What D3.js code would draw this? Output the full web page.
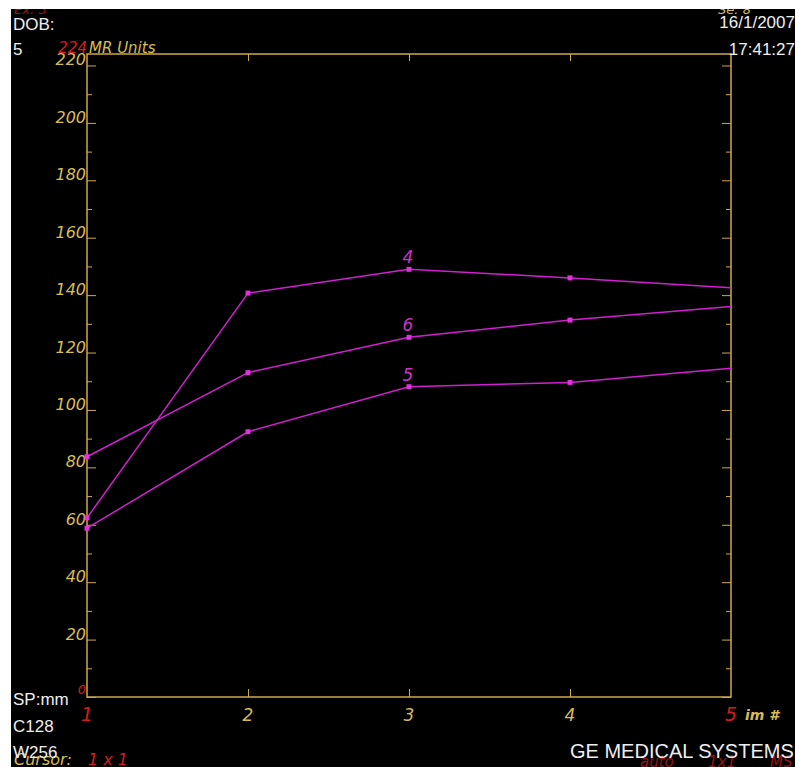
<!DOCTYPE html>
<html>
<head>
<meta charset="utf-8">
<script src="https://cdn.jsdelivr.net/npm/d3@7"></script>
<style>
  body { margin: 0; background: #fff; }
  .wt { font-family: "Liberation Sans", Arial, sans-serif; font-size: 17px; fill: #eeeeee; }
  .ax { font-family: "Liberation Sans Narrow", "DejaVu Sans", sans-serif; font-style: italic; font-size: 16px; fill: #d8bd55; }
  .rd { fill: #d81c1c; }
  .mg { font-family: "Liberation Sans Narrow", "DejaVu Sans", sans-serif; font-style: italic; font-size: 17px; fill: #cc33cc; }
</style>
</head>
<body>
<script>
// image numbers along the x axis
var images = [1, 2, 3, 4, 5];

// signal intensity (MR units) per region of interest
var roi4 = [62.4, 140.7, 149.0, 146.0, 142.6];
var roi6 = [83.7, 113.0, 125.3, 131.3, 136.0];
var roi5 = [58.8, 92.4, 108.1, 109.6, 114.5];
var roiNames = ["4", "6", "5"];

var yLabels = [0, 20, 40, 60, 80, 100, 120, 140, 160, 180, 200, 220];
var yMax = 224;

window.onload = function(){

    var w = 795, h = 767;
    var mLeft = 87, mRight = 731, mTop = 54, mBottom = 697;

    var svg = d3.select("body").append("svg")
        .attr("width", w)
        .attr("height", h);

    // black screen area
    svg.append("rect")
        .attr("x", 11).attr("y", 9)
        .attr("width", w - 11).attr("height", h - 9)
        .style("fill", "#000");

    var x = d3.scaleLinear().domain([1, 5]).range([mLeft, mRight]);
    var y = d3.scaleLinear().domain([0, yMax]).range([mBottom, mTop]);

    var gold = "#cfa94a";

    // minor ticks every 10 units, major every 20
    var tickVals = d3.range(0, 221, 10);

    // left axis, ticks point inward
    svg.append("g").attr("transform", "translate(" + mLeft + ",0)")
        .call(d3.axisRight(y).tickValues(tickVals).tickSize(0).tickFormat(""))
        .call(function(g){ g.select(".domain").remove(); })
        .selectAll(".tick line")
        .attr("x2", function(d){ return d % 20 === 0 ? 9 : 5; })
        .style("stroke", gold);

    // right axis, ticks point inward
    svg.append("g").attr("transform", "translate(" + mRight + ",0)")
        .call(d3.axisLeft(y).tickValues(tickVals).tickSize(0).tickFormat(""))
        .call(function(g){ g.select(".domain").remove(); })
        .selectAll(".tick line")
        .attr("x2", function(d){ return d % 20 === 0 ? -9 : -5; })
        .style("stroke", gold);

    // top and bottom ticks at the inner images
    var innerX = images.slice(1, 4);
    svg.append("g").attr("transform", "translate(0," + mBottom + ")")
        .call(d3.axisTop(x).tickValues(innerX).tickSize(8).tickFormat(""))
        .call(function(g){ g.select(".domain").remove(); })
        .selectAll(".tick line").style("stroke", gold);
    svg.append("g").attr("transform", "translate(0," + mTop + ")")
        .call(d3.axisBottom(x).tickValues(innerX).tickSize(7).tickFormat(""))
        .call(function(g){ g.select(".domain").remove(); })
        .selectAll(".tick line").style("stroke", gold);

    // frame
    svg.append("rect")
        .attr("x", x(1)).attr("y", y(yMax))
        .attr("width", x(5) - x(1)).attr("height", y(0) - y(yMax))
        .style("fill", "none")
        .style("stroke", gold)
        .style("stroke-width", 1.5);

    // y labels (0 is red)
    svg.selectAll(".ylab")
        .data(yLabels)
        .enter()
        .append("text")
        .attr("class", function(d){ return d === 0 ? "ax rd" : "ax"; })
        .attr("text-anchor", "end")
        .attr("x", mLeft - 1)
        .attr("y", function(d){ return d === 0 ? y(d) - 3 : y(d); })
        .style("font-size", function(d){ return d === 0 ? "13px" : null; })
        .text(function(d){ return d; });

    // x labels (first and last are red)
    svg.selectAll(".xlab")
        .data(images)
        .enter()
        .append("text")
        .attr("class", function(d, i){ return (i === 0 || i === images.length - 1) ? "ax rd" : "ax"; })
        .attr("text-anchor", "middle")
        .attr("x", function(d){ return x(d); })
        .attr("y", mBottom + 24)
        .style("font-size", function(d, i){ return (i === 0 || i === images.length - 1) ? "19px" : "17px"; })
        .text(function(d){ return d; });

    svg.append("text").attr("class", "ax")
        .attr("x", mRight + 14).attr("y", mBottom + 23)
        .style("font-weight", "bold").style("font-size", "14px")
        .text("im #");

    svg.append("text").attr("class", "ax rd")
        .attr("text-anchor", "end")
        .attr("x", mLeft).attr("y", mTop - 1)
        .style("font-size", "15px")
        .text(yMax);
    svg.append("text").attr("class", "ax")
        .attr("x", mLeft + 2).attr("y", mTop - 1)
        .style("font-size", "15px")
        .text("MR Units");

    // curves
    var series = [roi4, roi6, roi5];
    var line = d3.line()
        .x(function(d, i){ return x(images[i]); })
        .y(function(d){ return y(d); });

    svg.selectAll(".curve")
        .data(series)
        .enter()
        .append("path")
        .attr("class", "curve")
        .attr("d", line)
        .style("fill", "none")
        .style("stroke", "#d020d0")
        .style("stroke-width", 1.5);

    series.forEach(function(s){
        svg.selectAll(null)
            .data(s.slice(0, 4))
            .enter()
            .append("rect")
            .attr("x", function(d, i){ return x(images[i]) - 2.5; })
            .attr("y", function(d){ return y(d) - 2.5; })
            .attr("width", 5).attr("height", 5)
            .style("fill", "#e030e0");
    });

    // curve labels above the 3rd point
    svg.selectAll(".clab")
        .data(series)
        .enter()
        .append("text")
        .attr("class", "mg")
        .attr("text-anchor", "middle")
        .attr("x", x(3) - 1)
        .attr("y", function(d){ return y(d[2]) - 6; })
        .text(function(d, i){ return roiNames[i]; });

    // screen annotations
    svg.append("text").attr("class", "ax rd").attr("x", 14).attr("y", 14).style("font-size", "13px").style("opacity", 0.7).text("Ex: 3");
    svg.append("text").attr("class", "ax").attr("x", 718).attr("y", 14).style("font-size", "13px").text("Se: 8");
    svg.append("text").attr("class", "wt").attr("x", 13).attr("y", 30).text("DOB:");
    svg.append("text").attr("class", "wt").attr("x", 13).attr("y", 55).text("5");
    svg.append("text").attr("class", "wt").attr("x", 795).attr("text-anchor", "end").attr("y", 28).text("16/1/2007");
    svg.append("text").attr("class", "wt").attr("x", 795).attr("text-anchor", "end").attr("y", 55).text("17:41:27");
    svg.append("text").attr("class", "wt").attr("x", 13).attr("y", 705).text("SP:mm");
    svg.append("text").attr("class", "wt").attr("x", 13).attr("y", 732).text("C128");
    svg.append("text").attr("class", "ax").attr("x", 14).attr("y", 765).style("font-size", "16px").text("Cursor:");
    svg.append("text").attr("class", "ax rd").attr("x", 88).attr("y", 765).style("font-size", "16px").text("1 x 1");
    svg.append("text").attr("class", "wt").attr("x", 13).attr("y", 758).text("W256");
    svg.append("text").attr("class", "ax rd").attr("x", 640).attr("y", 767).style("font-size", "15px").style("opacity", 0.7).text("auto");
    svg.append("text").attr("class", "ax rd").attr("x", 708).attr("y", 767).style("font-size", "15px").style("opacity", 0.7).text("1x1");
    svg.append("text").attr("class", "ax rd").attr("x", 770).attr("y", 767).style("font-size", "15px").style("opacity", 0.7).text("MS");
    svg.append("text").attr("class", "wt").attr("x", 570).attr("y", 758).style("font-size", "20px").text("GE MEDICAL SYSTEMS");

    // white margin strips
    svg.append("rect").attr("x", 0).attr("y", 0).attr("width", w).attr("height", 9).style("fill", "#fff");
    svg.append("rect").attr("x", 0).attr("y", 0).attr("width", 11).attr("height", h).style("fill", "#fff");
};
</script>
</body>
</html>
